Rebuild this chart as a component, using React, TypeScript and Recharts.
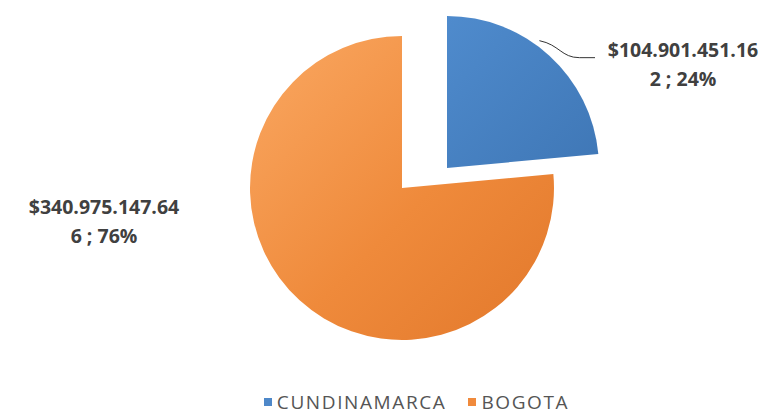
import { PieChart, Pie, Cell, Legend } from 'recharts'

const categories = ['CUNDINAMARCA', 'BOGOTA']
const amounts = [104901451162, 340975147646]
const colors = ['#4E88C9', '#F08A3C']
const fills = ['url(#blueGrad)', 'url(#orangeGrad)']

const total = amounts.reduce((a, b) => a + b, 0)
const data = categories.map((name, i) => ({ name, value: amounts[i] }))

// Excel-style wrapped label: "$104.901.451.16" / "2 ; 24%"
const money = (v: number) => '$' + v.toString().replace(/\B(?=(\d{3})+(?!\d))/g, '.')
const labelLines = (i: number) => {
  const m = money(amounts[i])
  const pct = Math.round((amounts[i] / total) * 100) + '%'
  return [m.slice(0, 15), `${m.slice(15)} ; ${pct}`]
}

const RAD = Math.PI / 180
const labelFont = { fontFamily: 'Open Sans, sans-serif', fontSize: 19.5, fontWeight: 700, fill: '#404040' }

function BlueLabel(props: any) {
  const { cx, cy, outerRadius, midAngle, index } = props
  if (index !== 0) return null
  const sx = cx + outerRadius * Math.cos(-midAngle * RAD) - 10
  const sy = cy + outerRadius * Math.sin(-midAngle * RAD) - 15
  const ex = cx + outerRadius - 4
  const ey = sy + 17
  const [l1, l2] = labelLines(0)
  return (
    <g>
      <path d={`M${sx},${sy} C${sx + 20},${sy + 4} ${sx + 22},${ey} ${sx + 40},${ey} L${ex},${ey}`} stroke="#333" strokeWidth={1} fill="none" />
      <text x={ex + 88} y={ey - 1} textAnchor="middle" {...labelFont}>
        <tspan x={ex + 88} dy={0}>{l1}</tspan>
        <tspan x={ex + 88} dy={29}>{l2}</tspan>
      </text>
    </g>
  )
}

function OrangeLabel(props: any) {
  const { cx, cy, outerRadius, index } = props
  if (index !== 1) return null
  const x = cx - outerRadius - 146
  const y = cy + 26
  const [l1, l2] = labelLines(1)
  return (
    <text x={x} y={y} textAnchor="middle" {...labelFont}>
      <tspan x={x} dy={0}>{l1}</tspan>
      <tspan x={x} dy={29}>{l2}</tspan>
    </text>
  )
}

function LegendBox() {
  return (
    <div style={{ display: 'flex', justifyContent: 'center', paddingLeft: 58, gap: 22, fontFamily: 'Open Sans, sans-serif', fontSize: 19, color: '#555', letterSpacing: 1.6 }}>
      {categories.map((c, i) => (
        <div key={c} style={{ display: 'flex', alignItems: 'center' }}>
          <span style={{ width: 8, height: 8, background: colors[i], marginRight: 5 }} />
          {c}
        </div>
      ))}
    </div>
  )
}

export default function App() {
  return (
    <div style={{ position: 'absolute', left: 0, top: 0, background: '#fff' }}>
      <PieChart width={775} height={415} margin={{ top: 0, right: 0, bottom: 0, left: 0 }}>
        <defs>
          <linearGradient id="orangeGrad" x1="0" y1="0" x2="1" y2="1">
            <stop offset="0%" stopColor="#FAA862" />
            <stop offset="55%" stopColor="#EF8A3B" />
            <stop offset="100%" stopColor="#E2782B" />
          </linearGradient>
          <linearGradient id="blueGrad" x1="0" y1="0" x2="1" y2="1">
            <stop offset="0%" stopColor="#4F8BCD" />
            <stop offset="100%" stopColor="#3F77B6" />
          </linearGradient>
        </defs>
        {/* main pie: only BOGOTA visible */}
        <Pie
          data={data}
          dataKey="value"
          nameKey="name"
          cx={402}
          cy={188}
          outerRadius={152}
          startAngle={90}
          endAngle={-270}
          stroke="none"
          label={OrangeLabel}
          labelLine={false}
          isAnimationActive={false}
        >
          {data.map((d, i) => (
            <Cell key={d.name} fill={i === 1 ? fills[i] : 'transparent'} />
          ))}
        </Pie>
        {/* exploded slice: CUNDINAMARCA */}
        <Pie
          data={data}
          dataKey="value"
          nameKey="name"
          cx={447}
          cy={168}
          outerRadius={152}
          startAngle={90}
          endAngle={-270}
          stroke="none"
          label={BlueLabel}
          labelLine={false}
          isAnimationActive={false}
          legendType="none"
        >
          {data.map((d, i) => (
            <Cell key={d.name} fill={i === 0 ? fills[i] : 'transparent'} />
          ))}
        </Pie>
        <Legend verticalAlign="bottom" content={LegendBox} wrapperStyle={{ bottom: 0, left: 0, width: 775 }} />
      </PieChart>
    </div>
  )
}
